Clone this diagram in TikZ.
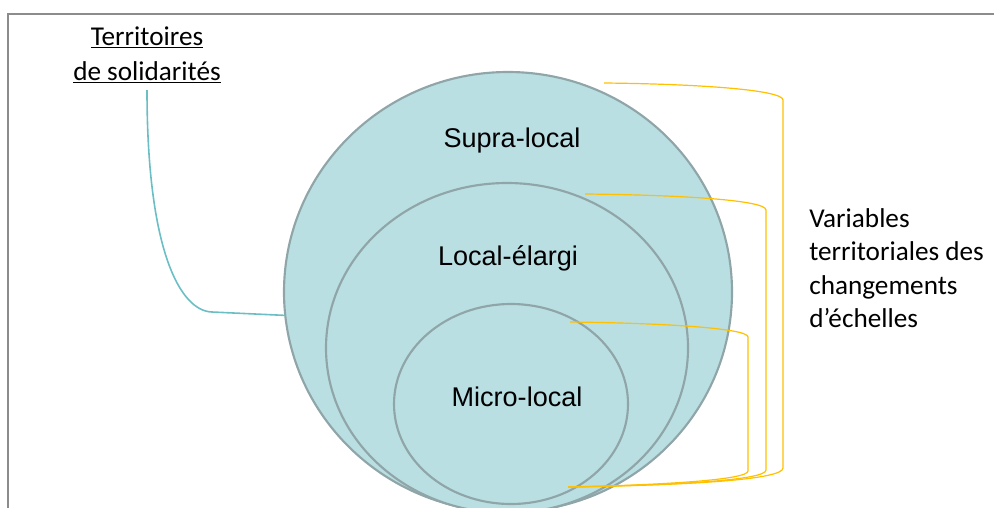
\documentclass[tikz,border=0pt]{standalone}
\usepackage{fontspec}
\setmainfont{Carlito}
\newfontfamily\arialfont{Liberation Sans}
\usepackage{xcolor}
\usetikzlibrary{positioning}
\usetikzlibrary{shapes.geometric}

\definecolor{zonefill}{HTML}{B9DFE3}
\definecolor{zonedraw}{HTML}{8FA5A8}
\definecolor{linkteal}{HTML}{6BBFC4}
\definecolor{bracketyel}{HTML}{FFC000}
\definecolor{framegray}{HTML}{8C8C8C}

\begin{document}
\begin{tikzpicture}[
    x = .75pt,
    y = -.75pt,
    zone/.style = {
      ellipse,
      draw=zonedraw,
      fill=zonefill,
      line width=1.6pt,
      inner sep=0pt,
      outer sep=0pt
    },
    zonetext/.style = {
      font=\arialfont\fontsize{20.3}{24}\selectfont,
      inner sep=0pt
    },
    notetext/.style = {
      font=\fontsize{20.4}{25}\selectfont,
      inner sep=0pt
    },
    bracket/.style = {
      draw=bracketyel,
      line width=.9pt
    }
  ]
    \useasboundingbox (0,0) rectangle (994,507);

    % frame
    \draw[framegray, line width=1.5pt] (8,520) -- (8,14) -- (1000,14);

    % nested zones
    \node[zone, minimum width=336pt, minimum height=330pt] (supra) at (508,292) {};
    \node[zone, minimum width=271.5pt, minimum height=247.5pt] (elargi) at (507,348) {};
    \node[zone, minimum width=175.5pt, minimum height=150pt] (micro) at (511,404) {};

    \node[zonetext] (lsupra) at (512,140) {Supra-local};
    \node[zonetext] (lelargi) at (508,258) {Local-élargi};
    \node[zonetext] (lmicro) at (517,397) {Micro-local};

    % left label and link
    \node[notetext, align=center, inner xsep=2pt, inner ysep=5pt] (terr) at (147,55)
      {\underline{Territoires}\\[1pt]\underline{de solidarités}};
    \draw[linkteal, line width=1.2pt] (terr.south)
      .. controls +(0,160) and (180,311) .. (212,312) -- (supra.186);

    % right label
    \node[notetext, align=left, anchor=west] (vars) at (809,268)
      {Variables\\territoriales des\\changements\\d’échelles};

    % brackets
    \coordinate (b1) at (604,83);
    \coordinate (b2) at (585,194);
    \coordinate (b3) at (570,322);
    \coordinate (bend) at (568,487);

    \draw[bracket] (b1) .. controls (700,84) and (783,90) .. (783,100)
      -- (783,468) .. controls (783,479) and (700,485) .. (bend);
    \draw[bracket] (b2) .. controls (680,195) and (766,200) .. (766,210)
      -- (766,470) .. controls (766,480) and (680,485) .. (bend);
    \draw[bracket] (b3) .. controls (660,323) and (748,328) .. (748,337)
      -- (748,471) .. controls (748,480) and (660,485) .. (bend);

  \end{tikzpicture}
\end{document}
